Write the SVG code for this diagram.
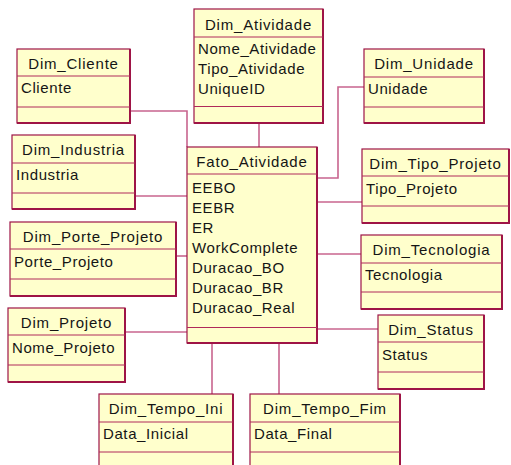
<svg xmlns="http://www.w3.org/2000/svg" width="511" height="465" viewBox="0 0 511 465">
  <style>
    .box { fill: #FFFFCC; stroke: #9E1446; stroke-width: 1.2; }
    .edge { fill: none; stroke: #9E1446; stroke-width: 2; }
    .div { stroke: #B02A5A; stroke-width: 1; }
    .link { fill: none; stroke: #C8648E; stroke-width: 1.6; }
    text { font-family: "Liberation Sans", Arial, sans-serif; font-size: 15px; fill: #151515; }
    .title { text-anchor: middle; letter-spacing: 0.8px; }
    .attr { letter-spacing: 0.6px; }
  </style>

  <!-- connectors between the fact table and its dimensions -->
  <g id="connectors">
    <polyline class="link" points="259,123 259,147"/>
    <polyline class="link" points="130,111 187,111 187,147"/>
    <polyline class="link" points="135,196 187,196"/>
    <polyline class="link" points="176,256 187,256"/>
    <polyline class="link" points="125,332 187,332"/>
    <polyline class="link" points="212,343 212,394"/>
    <polyline class="link" points="279,343 279,394"/>
    <polyline class="link" points="364,87 338,87 338,178 317,178"/>
    <polyline class="link" points="317,202 362,202"/>
    <polyline class="link" points="317,254 361,254"/>
    <polyline class="link" points="317,329 378,329"/>
  </g>

  <g id="Dim_Atividade">
    <rect class="box" x="194" y="9" width="129" height="114"/>
    <polyline class="edge" points="323,9 323,123 194,123"/>
    <line class="div" x1="194" y1="37" x2="323" y2="37"/>
    <line class="div" x1="194" y1="106.5" x2="323" y2="106.5"/>
    <text class="title" x="258.5" y="29.5">Dim_Atividade</text>
    <text class="attr" x="198" y="53.5">Nome_Atividade</text>
    <text class="attr" x="198" y="73.8">Tipo_Atividade</text>
    <text class="attr" x="198" y="94.1">UniqueID</text>
  </g>

  <g id="Dim_Cliente">
    <rect class="box" x="17" y="49" width="113" height="74"/>
    <polyline class="edge" points="130,49 130,123 17,123"/>
    <line class="div" x1="17" y1="76" x2="130" y2="76"/>
    <line class="div" x1="17" y1="107" x2="130" y2="107"/>
    <text class="title" x="73.5" y="69">Dim_Cliente</text>
    <text class="attr" x="21" y="93">Cliente</text>
  </g>

  <g id="Dim_Unidade">
    <rect class="box" x="364" y="49" width="120" height="74"/>
    <polyline class="edge" points="484,49 484,123 364,123"/>
    <line class="div" x1="364" y1="77" x2="484" y2="77"/>
    <line class="div" x1="364" y1="107" x2="484" y2="107"/>
    <text class="title" x="424" y="69">Dim_Unidade</text>
    <text class="attr" x="368" y="94">Unidade</text>
  </g>

  <g id="Dim_Industria">
    <rect class="box" x="12" y="135" width="123" height="74"/>
    <polyline class="edge" points="135,135 135,209 12,209"/>
    <line class="div" x1="12" y1="163" x2="135" y2="163"/>
    <line class="div" x1="12" y1="193" x2="135" y2="193"/>
    <text class="title" x="73.5" y="155">Dim_Industria</text>
    <text class="attr" x="16" y="180">Industria</text>
  </g>

  <g id="Fato_Atividade">
    <rect class="box" x="187" y="147" width="130" height="196"/>
    <polyline class="edge" points="317,147 317,343 187,343"/>
    <line class="div" x1="187" y1="174" x2="317" y2="174"/>
    <line class="div" x1="187" y1="327.5" x2="317" y2="327.5"/>
    <text class="title" x="252" y="167">Fato_Atividade</text>
    <text class="attr" x="192" y="193">EEBO</text>
    <text class="attr" x="192" y="213.2">EEBR</text>
    <text class="attr" x="192" y="233.4">ER</text>
    <text class="attr" x="192" y="253.1">WorkComplete</text>
    <text class="attr" x="192" y="273">Duracao_BO</text>
    <text class="attr" x="192" y="293">Duracao_BR</text>
    <text class="attr" x="192" y="313">Duracao_Real</text>
  </g>

  <g id="Dim_Tipo_Projeto">
    <rect class="box" x="362" y="149" width="147" height="74"/>
    <polyline class="edge" points="509,149 509,223 362,223"/>
    <line class="div" x1="362" y1="176" x2="509" y2="176"/>
    <line class="div" x1="362" y1="206" x2="509" y2="206"/>
    <text class="title" x="435.5" y="169">Dim_Tipo_Projeto</text>
    <text class="attr" x="366" y="194">Tipo_Projeto</text>
  </g>

  <g id="Dim_Porte_Projeto">
    <rect class="box" x="10" y="222" width="166" height="74"/>
    <polyline class="edge" points="176,222 176,296 10,296"/>
    <line class="div" x1="10" y1="249" x2="176" y2="249"/>
    <line class="div" x1="10" y1="279" x2="176" y2="279"/>
    <text class="title" x="93" y="242">Dim_Porte_Projeto</text>
    <text class="attr" x="14" y="267">Porte_Projeto</text>
  </g>

  <g id="Dim_Tecnologia">
    <rect class="box" x="361" y="235" width="141" height="74"/>
    <polyline class="edge" points="502,235 502,309 361,309"/>
    <line class="div" x1="361" y1="263" x2="502" y2="263"/>
    <line class="div" x1="361" y1="292" x2="502" y2="292"/>
    <text class="title" x="431.5" y="255">Dim_Tecnologia</text>
    <text class="attr" x="365" y="280">Tecnologia</text>
  </g>

  <g id="Dim_Projeto">
    <rect class="box" x="8" y="308" width="117" height="74"/>
    <polyline class="edge" points="125,308 125,382 8,382"/>
    <line class="div" x1="8" y1="335" x2="125" y2="335"/>
    <line class="div" x1="8" y1="365" x2="125" y2="365"/>
    <text class="title" x="66.5" y="328">Dim_Projeto</text>
    <text class="attr" x="12" y="353">Nome_Projeto</text>
  </g>

  <g id="Dim_Status">
    <rect class="box" x="378" y="315" width="106" height="74"/>
    <polyline class="edge" points="484,315 484,389 378,389"/>
    <line class="div" x1="378" y1="342" x2="484" y2="342"/>
    <line class="div" x1="378" y1="372" x2="484" y2="372"/>
    <text class="title" x="431" y="335">Dim_Status</text>
    <text class="attr" x="382" y="360">Status</text>
  </g>

  <g id="Dim_Tempo_Ini">
    <rect class="box" x="99" y="394" width="134" height="74"/>
    <polyline class="edge" points="233,394 233,468 99,468"/>
    <line class="div" x1="99" y1="422" x2="233" y2="422"/>
    <line class="div" x1="99" y1="452" x2="233" y2="452"/>
    <text class="title" x="166" y="414">Dim_Tempo_Ini</text>
    <text class="attr" x="103" y="439">Data_Inicial</text>
  </g>

  <g id="Dim_Tempo_Fim">
    <rect class="box" x="250" y="394" width="150" height="74"/>
    <polyline class="edge" points="400,394 400,468 250,468"/>
    <line class="div" x1="250" y1="422" x2="400" y2="422"/>
    <line class="div" x1="250" y1="452" x2="400" y2="452"/>
    <text class="title" x="325" y="414">Dim_Tempo_Fim</text>
    <text class="attr" x="254" y="439">Data_Final</text>
  </g>
</svg>
